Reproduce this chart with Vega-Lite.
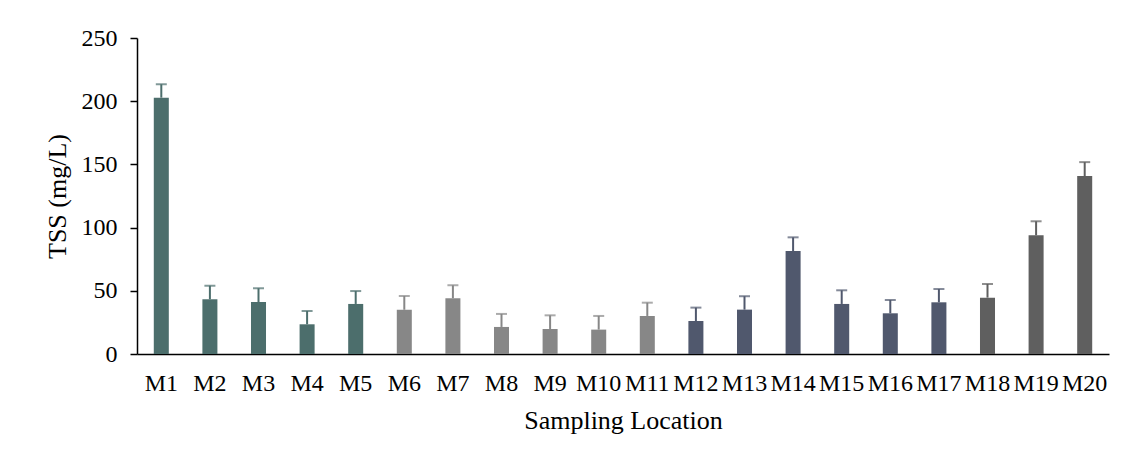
{
  "$schema": "https://vega.github.io/schema/vega-lite/v6.json",
  "autosize": {"type": "none"},
  "padding": {"left": 137, "top": 38, "right": 25, "bottom": 107},
  "width": 972,
  "height": 316,
  "background": "white",
  "config": {
    "view": {"stroke": null},
    "font": "Liberation Serif",
    "axis": {
      "labelFont": "Liberation Serif",
      "titleFont": "Liberation Serif",
      "labelColor": "black",
      "titleColor": "black",
      "titleFontWeight": "normal",
      "domainColor": "black",
      "tickColor": "black",
      "grid": false
    }
  },
  "data": {
    "values": [
      {"site": "M1", "tss": 202.8, "err": 10.6, "zone": "A"},
      {"site": "M2", "tss": 43.3, "err": 10.7, "zone": "A"},
      {"site": "M3", "tss": 41.1, "err": 10.9, "zone": "A"},
      {"site": "M4", "tss": 23.5, "err": 10.5, "zone": "A"},
      {"site": "M5", "tss": 39.6, "err": 10.2, "zone": "A"},
      {"site": "M6", "tss": 35.0, "err": 10.9, "zone": "B"},
      {"site": "M7", "tss": 44.1, "err": 10.3, "zone": "B"},
      {"site": "M8", "tss": 21.4, "err": 10.3, "zone": "B"},
      {"site": "M9", "tss": 19.8, "err": 10.8, "zone": "B"},
      {"site": "M10", "tss": 19.3, "err": 10.8, "zone": "B"},
      {"site": "M11", "tss": 30.1, "err": 10.5, "zone": "B"},
      {"site": "M12", "tss": 26.1, "err": 10.6, "zone": "C"},
      {"site": "M13", "tss": 35.1, "err": 10.6, "zone": "C"},
      {"site": "M14", "tss": 81.5, "err": 10.8, "zone": "C"},
      {"site": "M15", "tss": 39.6, "err": 10.8, "zone": "C"},
      {"site": "M16", "tss": 32.2, "err": 10.5, "zone": "C"},
      {"site": "M17", "tss": 40.9, "err": 10.5, "zone": "C"},
      {"site": "M18", "tss": 44.6, "err": 10.8, "zone": "D"},
      {"site": "M19", "tss": 93.9, "err": 11.1, "zone": "D"},
      {"site": "M20", "tss": 140.8, "err": 11.0, "zone": "D"}
    ]
  },
  "transform": [
    {"calculate": "datum.tss + datum.err", "as": "upper"}
  ],
  "encoding": {
    "x": {
      "field": "site",
      "type": "nominal",
      "sort": null,
      "scale": {"paddingInner": 0.691, "paddingOuter": 0.3455},
      "axis": {
        "title": "Sampling Location",
        "labelAngle": 0,
        "labelFontSize": 24,
        "titleFontSize": 26,
        "ticks": false,
        "tickSize": 0,
        "labelPadding": 36,
        "labelBaseline": "alphabetic",
        "titleBaseline": "alphabetic",
        "titleY": 74,
        "domainWidth": 1.5
      }
    },
    "color": {
      "field": "zone",
      "type": "nominal",
      "legend": null,
      "scale": {
        "domain": ["A", "B", "C", "D"],
        "range": ["#4c6e6c", "#878787", "#50586d", "#5f5f5f"]
      }
    }
  },
  "layer": [
    {
      "mark": {"type": "bar"},
      "encoding": {
        "y": {
          "field": "tss",
          "type": "quantitative",
          "scale": {"domain": [0, 250], "nice": false},
          "axis": {
            "title": "TSS (mg/L)",
            "values": [0, 50, 100, 150, 200, 250],
            "labelFontSize": 24,
            "titleFontSize": 26,
            "tickSize": 7,
            "labelPadding": 13,
            "titleX": -72,
            "titleBaseline": "alphabetic",
            "domainWidth": 1.5,
            "tickWidth": 1.5
          }
        }
      }
    },
    {
      "mark": {"type": "rule", "strokeWidth": 2},
      "encoding": {
        "y": {"field": "tss", "type": "quantitative"},
        "y2": {"field": "upper"}
      }
    },
    {
      "mark": {"type": "tick", "size": 11, "thickness": 2},
      "encoding": {
        "y": {"field": "upper", "type": "quantitative"}
      }
    }
  ]
}
